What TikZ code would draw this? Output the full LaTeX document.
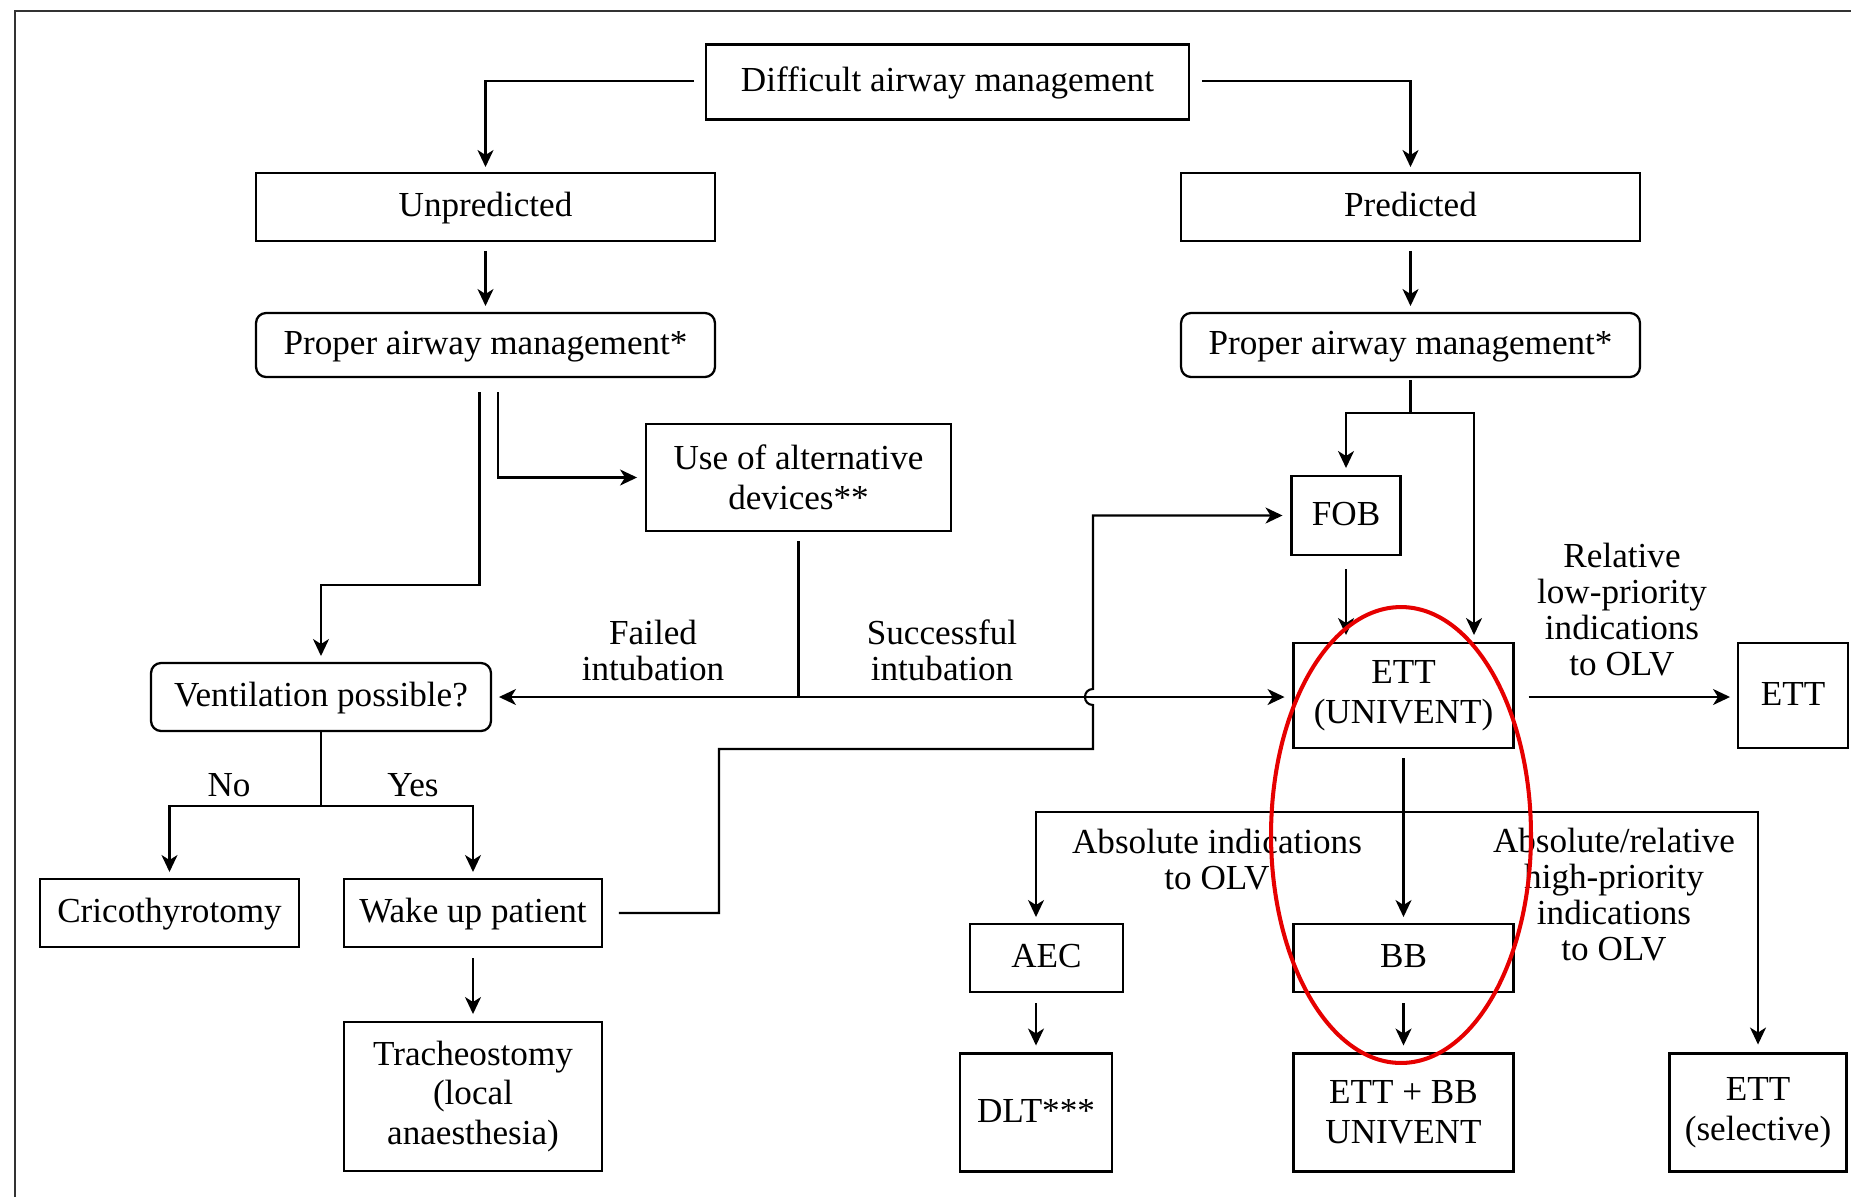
\documentclass[tikz,border=0pt]{standalone}
\usepackage{fontspec}
\setmainfont{Liberation Serif}
\usetikzlibrary{arrows.meta,calc}
\definecolor{ellred}{RGB}{230,0,0}
\begin{document}
\begin{tikzpicture}[x=0.02cm,y=-0.02cm,
  box/.style={draw, line width=1.3pt, align=center, inner sep=0pt, outer sep=0pt,
    font=\fontsize{20}{22.5}\selectfont},
  sl/.style={text height=13.7pt, text depth=2.6pt},
  rbox/.style={box, rounded corners=0.2cm},
  lbl/.style={align=center, inner sep=0pt, font=\fontsize{20}{20.5}\selectfont},
  conn/.style={line width=1.2pt},
  arr/.style={conn, -{Stealth[length=0.34cm,width=0.32cm,inset=0.1cm]}}]
\useasboundingbox (0,0) rectangle (1851,1197);
\draw[line width=1.4pt, black!80] (15,1197) -- (15,11) -- (1851,11);

% nodes
\node[box, sl, minimum width=9.66cm, minimum height=1.5cm] (diff) at (947.5,82) {Difficult airway management};
\node[box, sl, minimum width=9.18cm, minimum height=1.36cm] (unpred) at (485.5,207) {Unpredicted};
\node[box, sl, minimum width=9.18cm, minimum height=1.36cm] (pred) at (1410.5,207) {Predicted};
\node[rbox, sl, minimum width=9.18cm, minimum height=1.28cm] (propL) at (485.5,345) {Proper airway management*};
\node[rbox, sl, minimum width=9.18cm, minimum height=1.28cm] (propR) at (1410.5,345) {Proper airway management*};
\node[box, minimum width=6.1cm, minimum height=2.14cm] (alt) at (798.5,477.5) {Use of alternative\\devices**};
\node[box, sl, minimum width=2.18cm, minimum height=1.58cm] (fob) at (1346,515.5) {FOB};
\node[rbox, sl, minimum width=6.8cm, minimum height=1.36cm] (vent) at (321,697) {Ventilation possible?};
\node[box, minimum width=4.4cm, minimum height=2.1cm] (ettu) at (1403.5,695.5) {ETT\\(UNIVENT)};
\node[box, sl, minimum width=2.2cm, minimum height=2.1cm] (ettr) at (1793,695.5) {ETT};
\node[box, sl, minimum width=5.18cm, minimum height=1.36cm] (crico) at (169.5,913) {Cricothyrotomy};
\node[box, sl, minimum width=5.16cm, minimum height=1.36cm] (wake) at (473,913) {Wake up patient};
\node[box, minimum width=5.16cm, minimum height=2.98cm] (trach) at (473,1096.5) {Tracheostomy\\(local\\anaesthesia)};
\node[box, sl, minimum width=3.06cm, minimum height=1.36cm] (aec) at (1046.5,958) {AEC};
\node[box, sl, minimum width=4.4cm, minimum height=1.36cm] (bb) at (1403.5,958) {BB};
\node[box, sl, minimum width=3.04cm, minimum height=2.36cm] (dlt) at (1036,1112.5) {DLT***};
\node[box, minimum width=4.4cm, minimum height=2.36cm] (ettbb) at (1403.5,1112.5) {ETT + BB\\UNIVENT};
\node[box, minimum width=3.54cm, minimum height=2.36cm] (etts) at (1758,1112.5) {ETT\\(selective)};

% labels
\node[lbl] (lfail) at (653,650) {Failed\\intubation};
\node[lbl] (lsucc) at (942,650) {Successful\\intubation};
\node[lbl] (lno) at (229,785) {No};
\node[lbl] (lyes) at (413,785) {Yes};
\node[lbl] (lrel) at (1622,610) {Relative\\low-priority\\indications\\to OLV};
\node[lbl] (labs) at (1217,860) {Absolute indications\\to OLV};
\node[lbl] (lhigh) at (1614,895) {Absolute/relative\\high-priority\\indications\\to OLV};

% junction coordinates
\coordinate (tl) at (485.5,81);
\coordinate (tr) at (1410.5,81);
\coordinate (jL) at (321,585);
\coordinate (jm) at (798.5,697);
\coordinate (jr) at (1410.5,413);
\coordinate (vj) at (321,806);
\coordinate (hj) at (1403.5,812);
\coordinate (w1) at (719,913);
\coordinate (w2) at (719,749);
\coordinate (w3) at (1093,749);

% top connectors
\draw[arr] ($(diff.west |- tl)+(-12,0)$) -- (tl) -- ($(unpred.north)+(0,-6)$);
\draw[arr] ($(diff.east |- tr)+(13,0)$) -- (tr) -- ($(pred.north)+(0,-6)$);
\draw[arr] ($(unpred.south)+(0,10)$) -- ($(propL.north)+(0,-7)$);
\draw[arr] ($(pred.south)+(0,10)$) -- ($(propR.north)+(0,-7)$);

% left branch
\draw[arr] ($(propL.south)+(-6,15)$) |- (jL) -- ($(vent.north)+(0,-7)$);
\draw[arr] ($(propL.south)+(12.5,15)$) |- ($(alt.west)+(-9,0)$);
\draw[conn] ($(alt.south)+(0,10)$) -- (jm);
\draw[arr] (jm) -- ($(vent.east |- jm)+(8,0)$);
\draw[arr] (jm) -- ($(ettu.west |- jm)+(-9,0)$);

% ventilation split
\draw[conn] (vent.south) -- (vj);
\draw[arr] (vj) -| ($(crico.north)+(0,-7)$);
\draw[arr] (vj) -| ($(wake.north)+(0,-7)$);
\draw[arr] ($(wake.south)+(0,11)$) -- ($(trach.north)+(0,-8)$);

% wake up -> FOB (with jump over the main line)
\draw[arr] ($(wake.east)+(17,0)$) -- (w1) -- (w2) -- (w3) -- (1093,705)
  .. controls (1082.3,705) and (1082.3,689) .. (1093,689)
  |- ($(fob.west)+(-9,0)$);

% right branch
\draw[conn] ($(propR.south)+(0,3)$) -- (jr);
\draw[arr] (jr) -| ($(fob.north)+(0,-8)$);
\draw[arr] (jr) -| (1474,635);
\draw[arr] ($(fob.south)+(0,14)$) -- ($(fob.south |- ettu.north)+(0,-8)$);
\draw[arr] ($(ettu.east |- jm)+(15,0)$) -- ($(ettr.west |- jm)+(-8,0)$);
\draw[arr] ($(ettu.south)+(0,10)$) -- ($(bb.north)+(0,-7)$);
\draw[arr] (hj) -| ($(aec.north -| dlt.north)+(0,-7)$);
\draw[arr] (hj) -| ($(etts.north)+(0,-9)$);
\draw[arr] ($(aec.south -| dlt.north)+(0,11)$) -- ($(dlt.north)+(0,-8)$);
\draw[arr] ($(bb.south)+(0,11)$) -- ($(ettbb.north)+(0,-8)$);

% red highlight
\draw[ellred, line width=2.3pt] (1401,835) ellipse [x radius=2.6cm, y radius=4.56cm];
\end{tikzpicture}
\end{document}
